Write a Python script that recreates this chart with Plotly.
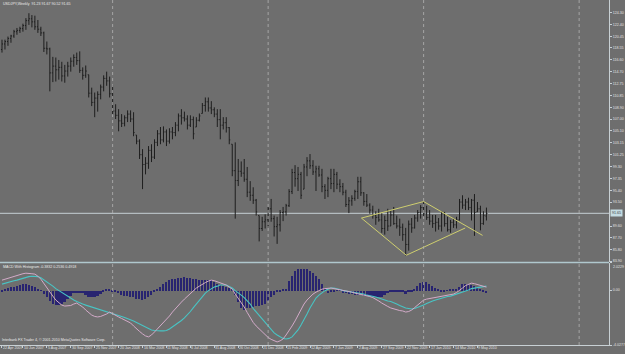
import pandas as pd
import plotly.graph_objects as go

# ---------------- data ----------------
start_date = "2007-04-22"   # first weekly bar

opens = [118.3,119.2,119.6,120.1,120.5,121.2,121.4,121.7,122.2,123.0,
         123.3,122.8,122.0,121.6,121.0,118.5,118.4,114.5,115.6,115.0,
         115.4,114.0,114.8,115.6,116.4,117.0,116.5,114.9,114.1,114.2,
         111.2,109.7,110.4,111.0,112.2,113.6,113.2,111.1,108.3,107.6,
         106.7,106.3,107.2,107.8,107.0,104.4,103.4,101.2,99.6,99.8,
         101.9,100.8,103.2,104.6,103.6,104.9,103.4,104.9,104.8,106.0,
         107.5,107.2,107.0,106.0,106.9,105.7,106.8,107.9,109.2,109.8,
         108.8,108.5,107.8,106.9,106.0,106.4,105.6,102.9,98.6,97.0,
         98.5,98.2,97.2,95.1,94.6,93.8,91.3,89.2,90.3,90.6,
         92.4,90.8,89.5,89.8,91.8,91.9,92.9,95.2,98.3,97.3,
         98.0,95.6,99.2,100.2,99.4,98.4,98.9,97.9,96.0,95.4,
         97.3,96.5,98.0,96.4,96.0,95.1,93.1,93.7,94.1,95.2,
         96.8,95.0,93.6,93.0,92.2,91.3,91.0,90.6,89.2,90.5,
         89.6,91.4,90.0,89.6,89.4,88.2,86.6,89.9,89.3,90.9,
         91.8,92.6,91.6,91.0,90.4,90.0,90.2,89.6,91.6,90.0,
         89.0,90.2,89.8,90.6,93.5,93.0,93.5,92.6,93.8,91.9,
         92.4,90.0,91.23]
highs = [119.9,119.9,120.4,120.7,121.5,121.8,122.0,122.5,123.4,124.2,
         123.9,123.8,123.1,122.0,121.2,119.6,118.6,117.1,117.0,116.6,
         116.3,115.8,116.3,117.0,117.5,117.8,118.0,115.4,115.7,114.2,
         112.1,111.3,111.5,112.6,114.1,114.7,113.9,112.6,109.4,108.6,
         107.8,107.6,108.4,108.4,108.1,104.4,103.7,102.1,100.8,102.6,
         102.9,103.7,105.2,105.7,105.8,105.3,105.5,105.7,106.5,107.9,
         108.6,108.2,107.6,107.6,107.4,107.3,107.9,109.6,110.5,110.5,
         109.9,108.9,108.6,108.6,107.3,107.3,105.7,102.9,103.2,100.5,
         100.1,100.5,99.2,96.9,95.9,94.0,91.3,91.1,91.5,92.7,
         94.0,91.3,91.1,92.2,92.7,93.2,95.6,98.9,99.5,99.2,
         98.4,99.7,100.8,101.3,100.3,99.4,99.4,98.9,96.4,97.6,
         98.9,98.9,98.4,97.2,96.6,95.5,94.3,94.6,95.5,97.6,
         97.6,95.1,94.8,93.3,92.9,92.0,92.4,91.7,91.3,92.4,
         92.2,92.7,91.3,90.8,90.0,89.3,90.5,90.9,91.4,92.2,
         93.0,93.5,92.9,92.2,91.4,91.4,90.9,92.0,91.9,91.1,
         90.6,90.8,91.1,94.0,94.6,94.0,94.2,94.0,94.8,93.5,
         92.9,92.0,92.6]
lows = [117.8,118.3,118.9,119.4,120.2,120.7,121.0,121.2,121.5,122.3,
        121.9,121.5,121.0,120.5,117.9,117.5,111.5,113.0,113.1,113.4,
        113.1,112.9,113.9,114.7,115.5,115.8,114.5,113.4,113.7,110.5,
        109.1,107.3,108.2,110.2,111.5,112.4,110.5,107.7,107.0,105.0,
        105.7,105.8,106.5,106.5,104.2,102.9,100.5,95.6,98.0,98.9,
        100.0,100.5,102.6,102.9,103.2,102.6,103.0,103.7,104.2,105.0,
        106.1,106.6,105.3,105.7,103.7,105.7,106.6,107.9,108.2,108.2,
        107.8,107.3,105.7,103.7,105.3,104.8,102.9,97.7,90.8,96.1,
        97.6,96.8,94.3,93.7,93.2,91.3,87.1,88.8,89.2,89.6,
        90.3,87.9,86.7,88.7,90.4,91.3,92.7,94.8,96.0,95.3,
        94.0,95.6,97.7,98.9,97.9,95.3,97.6,95.1,94.0,94.3,
        95.6,95.1,95.6,95.1,94.6,92.7,91.7,92.9,93.7,94.0,
        94.5,92.9,92.7,91.6,90.8,89.8,90.3,88.5,88.2,88.8,
        89.6,89.8,89.2,88.0,87.2,84.8,85.6,88.5,89.2,90.3,
        90.8,91.1,90.6,89.8,89.3,88.7,89.0,88.7,89.5,88.7,
        88.5,89.3,89.2,90.5,92.4,92.2,92.2,90.5,88.0,91.9,
        88.9,89.8,90.5]
closes = [119.2,119.6,120.1,120.5,121.2,121.4,121.7,122.2,123.0,123.3,
          122.8,122.0,121.6,121.0,118.5,118.4,114.5,115.6,115.0,115.4,
          114.0,114.8,115.6,116.4,117.0,116.5,114.9,114.1,114.8,111.2,
          109.7,110.4,111.0,112.2,113.6,113.2,111.1,108.3,107.6,106.7,
          106.3,107.2,107.8,107.0,104.8,103.4,101.2,99.6,99.8,101.9,
          100.8,103.2,104.6,103.6,104.9,103.4,104.9,104.8,106.0,107.5,
          107.2,107.0,106.0,106.9,104.6,106.8,107.5,109.2,109.8,108.8,
          108.5,107.8,106.9,106.0,106.4,105.6,103.6,98.6,97.0,98.5,
          98.2,97.2,95.1,94.6,93.8,91.9,89.2,90.3,90.6,92.4,
          90.8,89.5,89.8,91.8,91.9,92.9,95.2,98.3,97.3,98.0,
          94.6,99.2,100.2,99.4,98.4,98.9,97.9,96.0,95.4,97.3,
          96.5,98.0,96.4,96.0,95.1,93.1,93.7,94.1,95.2,96.8,
          95.0,93.6,93.0,92.2,91.3,91.0,90.6,89.2,90.5,89.6,
          91.4,90.0,89.6,89.4,88.2,86.6,89.9,89.3,90.9,91.8,
          92.6,91.6,91.0,90.4,90.0,90.2,89.6,91.6,90.0,89.0,
          90.2,89.8,90.6,93.5,93.0,93.5,92.6,93.8,91.8,92.4,
          90.0,91.3,91.65]

macd_main = [0.73,0.80,0.84,0.91,1.02,1.10,1.17,1.20,1.24,1.24,
             1.20,1.17,1.02,0.80,0.47,0.18,-0.15,-0.44,-0.73,-0.91,
             -1.10,-1.17,-1.17,-1.13,-1.02,-0.95,-1.10,-1.24,-1.46,-1.68,
             -1.83,-1.93,-1.97,-1.93,-1.86,-1.75,-1.61,-1.75,-1.86,-1.97,
             -2.08,-2.19,-2.26,-2.41,-2.63,-2.85,-3.03,-3.21,-3.36,-3.43,
             -3.29,-3.07,-2.85,-2.56,-2.34,-2.12,-1.90,-1.61,-1.35,-1.10,
             -0.88,-0.66,-0.44,-0.22,0.00,0.15,0.29,0.44,0.55,0.66,
             0.73,0.69,0.62,0.55,0.44,0.37,0.22,0.07,-0.29,-0.58,
             -0.88,-1.24,-1.64,-2.04,-2.37,-2.63,-2.85,-3.07,-3.29,-3.47,
             -3.61,-3.72,-3.80,-3.72,-3.58,-3.29,-2.99,-2.63,-2.26,-1.83,
             -1.39,-1.02,-0.73,-0.47,-0.29,-0.15,-0.04,0.07,0.11,0.15,
             0.15,0.11,0.07,0.04,0.00,-0.04,-0.07,-0.15,-0.22,-0.26,
             -0.33,-0.37,-0.40,-0.47,-0.55,-0.66,-0.80,-0.95,-1.10,-1.20,
             -1.31,-1.39,-1.46,-1.50,-1.53,-1.61,-1.57,-1.46,-1.28,-1.10,
             -0.91,-0.73,-0.66,-0.62,-0.58,-0.55,-0.51,-0.47,-0.44,-0.40,
             -0.37,-0.29,-0.18,-0.04,0.15,0.33,0.44,0.51,0.47,0.40,
             0.33,0.26,0.22]
macd_signal = [0.44,0.51,0.55,0.62,0.69,0.73,0.80,0.88,0.95,0.99,
               1.02,1.02,0.99,0.91,0.77,0.58,0.44,0.29,0.11,-0.04,
               -0.18,-0.33,-0.47,-0.62,-0.73,-0.84,-0.95,-1.02,-1.10,-1.17,
               -1.20,-1.28,-1.35,-1.42,-1.46,-1.53,-1.61,-1.68,-1.79,-1.86,
               -1.93,-2.01,-2.08,-2.15,-2.26,-2.37,-2.48,-2.63,-2.74,-2.85,
               -2.92,-2.96,-2.99,-2.99,-2.99,-2.96,-2.85,-2.70,-2.56,-2.41,
               -2.23,-2.04,-1.83,-1.57,-1.28,-1.02,-0.73,-0.47,-0.22,-0.04,
               0.11,0.22,0.29,0.37,0.37,0.37,0.26,0.15,-0.04,-0.18,
               -0.37,-0.55,-0.77,-1.02,-1.35,-1.61,-1.90,-2.15,-2.41,-2.66,
               -2.92,-3.14,-3.29,-3.43,-3.54,-3.58,-3.54,-3.43,-3.18,-2.92,
               -2.56,-2.19,-1.75,-1.31,-0.91,-0.58,-0.37,-0.18,-0.04,0.07,
               0.15,0.15,0.11,0.04,-0.04,-0.07,-0.11,-0.15,-0.18,-0.22,
               -0.26,-0.29,-0.37,-0.40,-0.44,-0.51,-0.58,-0.66,-0.73,-0.80,
               -0.84,-0.91,-1.02,-1.13,-1.24,-1.31,-1.35,-1.39,-1.35,-1.28,
               -1.17,-1.10,-0.99,-0.88,-0.80,-0.73,-0.66,-0.58,-0.51,-0.47,
               -0.44,-0.37,-0.29,-0.22,-0.15,-0.07,0.00,0.11,0.15,0.18,
               0.22,0.26,0.29]
macd_hist = [-0.10,0.15,0.20,0.25,0.30,0.35,0.40,0.45,0.47,0.40,
             0.33,0.25,0.10,0.02,-0.25,-0.50,-0.75,-0.95,-1.02,-1.04,
             -0.95,-0.80,-0.60,-0.40,-0.20,-0.15,-0.20,-0.20,-0.35,-0.45,
             -0.50,-0.48,-0.40,-0.25,-0.10,0.10,0.08,-0.05,-0.10,-0.20,
             -0.30,-0.38,-0.42,-0.45,-0.50,-0.58,-0.62,-0.68,-0.60,-0.45,
             -0.30,-0.10,0.05,0.30,0.50,0.65,0.78,0.85,0.88,0.90,
             0.95,1.00,0.93,0.90,0.88,0.82,0.78,0.75,0.76,0.78,
             0.75,0.65,0.50,0.40,0.32,0.25,0.18,0.05,-0.30,-0.80,
             -1.30,-1.42,-1.30,-1.25,-1.20,-1.15,-1.10,-1.05,-0.95,-0.75,
             -0.50,-0.30,-0.10,-0.05,0.05,0.15,0.70,1.10,1.45,1.55,
             1.58,1.58,1.55,1.45,1.30,1.10,0.85,0.50,0.20,-0.15,
             -0.12,-0.05,0.02,0.05,-0.15,-0.20,-0.25,-0.28,-0.30,-0.32,
             -0.35,-0.38,-0.40,-0.42,-0.45,-0.48,-0.50,-0.45,-0.30,-0.20,
             -0.10,-0.05,-0.05,-0.08,-0.10,-0.25,-0.08,-0.05,0.10,0.35,
             0.55,0.65,0.63,0.50,0.35,0.20,0.05,-0.05,-0.05,0.03,
             0.05,0.05,0.10,0.30,0.45,0.50,0.45,0.42,0.35,0.25,
             0.15,-0.12,-0.15]

price_ticks = [124.30,122.40,120.45,118.55,116.60,114.70,112.75,110.85,108.90,107.00,
               105.10,103.15,101.25,99.30,97.35,95.40,93.50,89.60,87.70,85.80,83.90]
price_tick_text = ["124.30","122.40","120.45","118.55","116.60","114.70","112.75","110.85","108.90","107.00",
                   "105.10","103.15","101.25","99.30","97.35","95.40","93.50","89.60","87.70","85.80","83.90"]
macd_ticks = [2.0229, 0.0, -4.0277]
macd_tick_text = ["2.0229", "0.00", "-4.0277"]
date_labels = ["22 Apr 2007","10 Jun 2007","5 Aug 2007","30 Sep 2007","25 Nov 2007","20 Jan 2008",
               "16 Mar 2008","11 May 2008","6 Jul 2008","31 Aug 2008","26 Oct 2008","21 Dec 2008",
               "15 Feb 2009","12 Apr 2009","7 Jun 2009","2 Aug 2009","27 Sep 2009","22 Nov 2009",
               "17 Jan 2010","14 Mar 2010","9 May 2010"]
separator_years = [2008, 2009, 2010, 2011]
# user-drawn trendlines: (bar index, price) pairs
trendlines = [((120.2, 90.89), (141.0, 93.58)),
              ((120.2, 90.89), (135.2, 84.85)),
              ((135.2, 84.85), (154.9, 89.28)),
              ((141.0, 93.58), (160.7, 88.08))]
header_text = "USDJPY,Weekly  91.23 91.67 90.52 91.65"
macd_title = "MACD With Histogram -0.3832 0.2536 0.4918"
footer_text = "Interbank FX Trader 4, \u00a9 2001-2010 MetaQuotes Software Corp."

# ---------------- figure ----------------
W, H = 625, 354
BG = "rgb(110,110,110)"
AX = "rgb(200,208,212)"
TXT = "rgb(225,225,225)"
FONT = "Liberation Sans"
FS = 3.6

x = list(range(len(closes)))
t0 = pd.Timestamp(start_date)
def idx_of(ts):
    return (pd.Timestamp(ts) - t0).days / 7.0

x_right = 611 / W
x_range = [-2 / 3, 611 / 3 - 2 / 3]

fig = go.Figure()
fig.add_trace(go.Ohlc(x=x, open=opens, high=highs, low=lows, close=closes,
                      increasing=dict(line=dict(color="#1e1e1e", width=1)),
                      decreasing=dict(line=dict(color="#1e1e1e", width=1)),
                      tickwidth=0.34, xaxis="x", yaxis="y", hoverinfo="skip"))

for (a, b) in trendlines:
    fig.add_trace(go.Scatter(x=[a[0], b[0]], y=[a[1], b[1]], mode="lines",
                             line=dict(color="rgb(206,206,110)", width=1),
                             xaxis="x", yaxis="y", hoverinfo="skip"))

fig.add_trace(go.Bar(x=x, y=macd_hist, width=0.55,
                     marker=dict(color="rgb(40,36,112)", line=dict(width=0)),
                     xaxis="x2", yaxis="y2", hoverinfo="skip"))
fig.add_trace(go.Scatter(x=x, y=macd_signal, mode="lines",
                         line=dict(color="rgb(72,196,196)", width=1.1),
                         xaxis="x2", yaxis="y2", hoverinfo="skip"))
fig.add_trace(go.Scatter(x=x, y=macd_main, mode="lines",
                         line=dict(color="rgb(210,170,200)", width=1),
                         xaxis="x2", yaxis="y2", hoverinfo="skip"))

label_idx = [idx_of(pd.to_datetime(d, format="%d %b %Y")) for d in date_labels]

axis_common = dict(showgrid=False, zeroline=False)
fig.update_layout(
    width=W, height=H, margin=dict(l=0, r=0, t=0, b=0),
    paper_bgcolor=BG, plot_bgcolor=BG, showlegend=False, bargap=0,
    font=dict(family=FONT, size=FS, color=TXT),
    xaxis=dict(domain=[0, x_right], range=x_range, anchor="y",
               showticklabels=False, ticks="", rangeslider=dict(visible=False),
               **axis_common),
    yaxis=dict(domain=[91 / H, 1], range=[83.83, 126.35], side="right", anchor="x",
               tickvals=price_ticks, ticktext=price_tick_text, ticks="outside",
               ticklen=2, tickcolor=AX, showline=True, linecolor=AX, linewidth=1,
               tickfont=dict(size=FS, color=TXT, family=FONT), **axis_common),
    xaxis2=dict(domain=[0, x_right], range=x_range, anchor="y2",
                tickvals=label_idx, showticklabels=False, ticks="outside",
                ticklen=2, tickcolor=AX, showline=True, linecolor=AX, linewidth=1,
                **axis_common),
    yaxis2=dict(domain=[7 / H, 90 / H], range=[-4.0277, 2.0229], side="right", anchor="x2",
                tickvals=macd_ticks, ticktext=["", macd_tick_text[1], macd_tick_text[2]],
                ticks="outside",
                ticklen=2, tickcolor=AX, showline=True, linecolor=AX, linewidth=1,
                tickfont=dict(size=FS, color=TXT, family=FONT), **axis_common),
)

shapes = []
# yearly period separators
for yr in separator_years:
    first = pd.Timestamp(f"{yr}-01-01")
    k = int(-(-(first - t0).days // 7))
    shapes.append(dict(type="line", xref="x", yref="paper", x0=k, x1=k,
                       y0=7 / H, y1=1, line=dict(color="rgb(180,180,180)", width=0.8, dash="dot"),
                       layer="above"))
# window separator
shapes.append(dict(type="line", xref="paper", yref="paper", x0=0, x1=x_right,
                   y0=(H - 264) / H, y1=(H - 264) / H,
                   line=dict(color="rgb(176,200,206)", width=1.6)))
# current price line
shapes.append(dict(type="line", xref="paper", yref="y", x0=0, x1=x_right,
                   y0=closes[-1], y1=closes[-1],
                   line=dict(color="rgb(180,188,192)", width=1.2), layer="below"))
fig.update_layout(shapes=shapes)

ann = []
ann.append(dict(text=header_text, xref="paper", yref="paper", x=2 / W, y=(H - 4) / H,
                xanchor="left", yanchor="middle", showarrow=False, borderpad=0,
                font=dict(size=FS, color="rgb(235,235,235)", family=FONT)))
ann.append(dict(text=macd_title, xref="paper", yref="paper", x=2 / W, y=(H - 269) / H,
                xanchor="left", yanchor="middle", showarrow=False, borderpad=0,
                font=dict(size=FS, color="rgb(235,235,235)", family=FONT)))
ann.append(dict(text=footer_text, xref="paper", yref="paper", x=1 / W, y=(H - 342) / H,
                xanchor="left", yanchor="middle", showarrow=False, borderpad=0,
                font=dict(size=FS, color="rgb(235,235,235)", family=FONT)))
# top label of the MACD window, set just below the window's top edge
ann.append(dict(text=macd_tick_text[0], xref="paper", yref="paper", x=x_right + 3 / W,
                y=(H - 268.5) / H, xanchor="left", yanchor="middle", showarrow=False,
                borderpad=0, font=dict(size=FS, color=TXT, family=FONT)))
for lbl, k in zip(date_labels, label_idx):
    ann.append(dict(text=lbl, xref="x2", yref="paper", x=k, y=(H - 350) / H,
                    xanchor="left", yanchor="middle", showarrow=False, borderpad=0,
                    font=dict(size=FS, color=TXT, family=FONT)))
ann.append(dict(text=f"{closes[-1]:.2f}", xref="paper", yref="y", x=x_right + 1 / W,
                y=closes[-1], xanchor="left", yanchor="middle", showarrow=False,
                bgcolor="rgb(196,220,226)", borderpad=1,
                font=dict(size=FS, color="rgb(60,60,60)", family=FONT)))
fig.update_layout(annotations=ann)

fig.write_html("out.html", config={"displayModeBar": False})
